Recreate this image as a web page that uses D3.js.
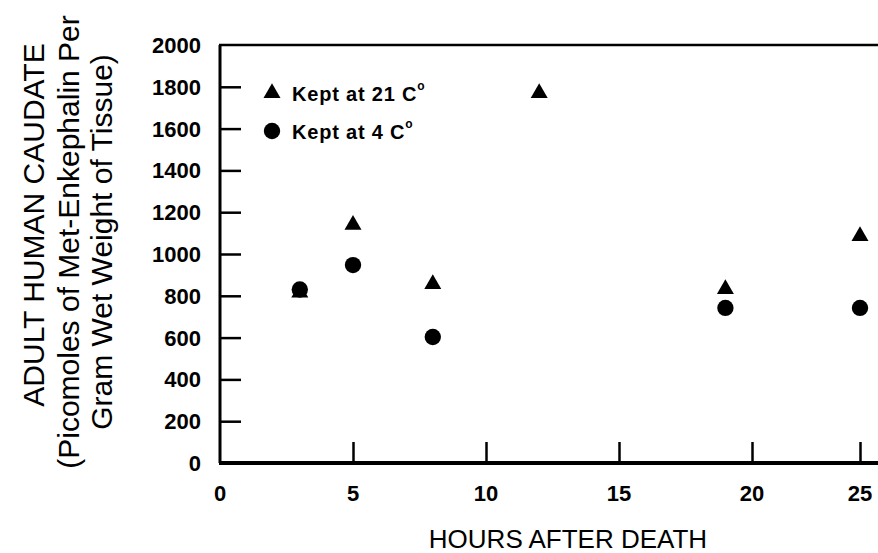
<!DOCTYPE html>
<html>
<head>
<meta charset="utf-8">
<script src="https://cdn.jsdelivr.net/npm/d3@7"></script>
<style>
  body { margin: 0; background: #fff; }
  svg text { font-family: "Liberation Sans", Arial, sans-serif; fill: #000; }
</style>
</head>
<body>
<div id="graph"></div>
<script>
const WIDTH = 878, HEIGHT = 553;

// data
const warmHours = [3, 5, 8, 12, 19, 25];
const warm = [815, 1140, 856, 1770, 832, 1086];   // kept at 21 C
const coldHours = [3, 5, 8, 19, 25];
const cold = [830, 947, 603, 742, 742];            // kept at 4 C
const xTicks = [0, 5, 10, 15, 20, 25];
const yTicks = [0, 200, 400, 600, 800, 1000, 1200, 1400, 1600, 1800, 2000];

let svg = d3.select("#graph")
    .append("svg")
    .attr("width", WIDTH)
    .attr("height", HEIGHT);

// the x axis of the original is squeezed after 20 h
let x = d3.scaleLinear().domain([0, 20, 25]).range([220, 752, 860]);
let y = d3.scaleLinear().domain([0, 2000]).range([463, 45]);

// frame: left axis, bottom axis, top line
svg.append("line").attr("x1", 220).attr("x2", 220).attr("y1", y(2000)).attr("y2", y(0))
    .attr("stroke", "#000").attr("stroke-width", 3);
svg.append("line").attr("x1", 219).attr("x2", WIDTH).attr("y1", y(0)).attr("y2", y(0))
    .attr("stroke", "#000").attr("stroke-width", 4);
svg.append("line").attr("x1", 219).attr("x2", WIDTH).attr("y1", y(2000)).attr("y2", y(2000))
    .attr("stroke", "#000").attr("stroke-width", 2.5);

// y ticks (inward)
let yAxis = svg.append("g")
    .attr("transform", `translate(220,0)`)
    .call(d3.axisRight(y).tickValues(yTicks.slice(1, -1)).tickSize(21).tickFormat(""));
yAxis.select(".domain").remove();
yAxis.selectAll("line").attr("stroke-width", 2.5);

svg.append("g").selectAll("text")
    .data(yTicks)
    .join("text")
    .attr("x", 201)
    .attr("y", d => y(d) + 8)
    .attr("text-anchor", "end")
    .style("font-size", "22px")
    .style("font-weight", "bold")
    .text(d => d);

// x ticks (inward)
let xAxis = svg.append("g")
    .attr("transform", `translate(0,${y(0)})`)
    .call(d3.axisTop(x).tickValues(xTicks.slice(1)).tickSize(21).tickFormat(""));
xAxis.select(".domain").remove();
xAxis.selectAll("line").attr("stroke-width", 2.5);

svg.append("g").selectAll("text")
    .data(xTicks)
    .join("text")
    .attr("x", d => x(d))
    .attr("y", 501)
    .attr("text-anchor", "middle")
    .style("font-size", "22px")
    .style("font-weight", "bold")
    .text(d => d);

// axis titles
svg.append("text")
    .attr("x", 568).attr("y", 548)
    .attr("text-anchor", "middle")
    .style("font-size", "26px")
    .text("HOURS AFTER DEATH");

const yTitle = ["ADULT HUMAN CAUDATE", "(Picomoles of Met-Enkephalin Per", "Gram Wet Weight of Tissue)"];
const yTitleX = [44, 79, 112];
const yTitleY = [225, 242, 242];
yTitle.forEach((t, i) => {
    svg.append("text")
        .attr("transform", `translate(${yTitleX[i]}, ${yTitleY[i]}) rotate(-90)`)
        .attr("text-anchor", "middle")
        .style("font-size", "30px")
        .text(t);
});

// marks
let triangle = d3.symbol().type(d3.symbolTriangle).size(125);
let circle = d3.symbol().type(d3.symbolCircle).size(210);

svg.append("g").selectAll("path")
    .data(warm)
    .join("path")
    .attr("d", triangle)
    .attr("transform", (d, i) => `translate(${x(warmHours[i])},${y(d)})`)
    .attr("fill", "#000");

svg.append("g").selectAll("path")
    .data(cold)
    .join("path")
    .attr("d", circle)
    .attr("transform", (d, i) => `translate(${x(coldHours[i])},${y(d)})`)
    .attr("fill", "#000");

// legend
const legend = [{label: "Kept at 21 C", sym: triangle}, {label: "Kept at 4 C", sym: circle}];
legend.forEach((l, i) => {
    let g = svg.append("g").attr("transform", `translate(272,${93 + i * 38})`);
    g.append("path").attr("d", l.sym).attr("fill", "#000");
    let t = g.append("text").attr("x", 20).attr("y", 8)
        .style("font-size", "20px").style("font-weight", "bold")
        .style("letter-spacing", "0.8px");
    t.append("tspan").text(l.label);
    t.append("tspan").attr("dy", -11).style("font-size", "12px").text("o");
});
</script>
</body>
</html>
